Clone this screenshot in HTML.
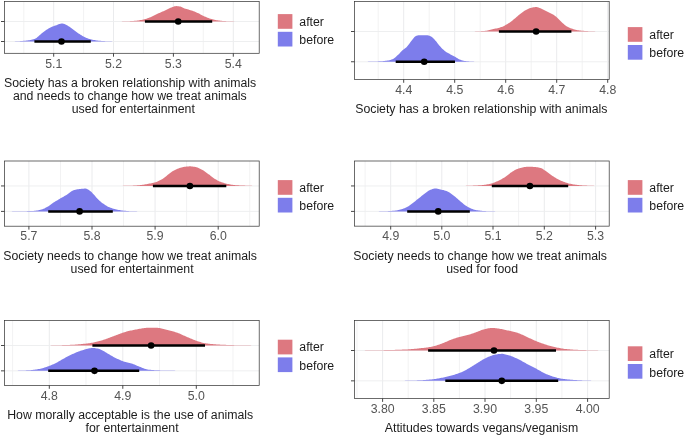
<!DOCTYPE html>
<html><head><meta charset="utf-8"><title>Figure</title>
<style>html,body{margin:0;padding:0;background:#fff;}svg{display:block;will-change:transform;}</style></head>
<body>
<svg width="685" height="436" viewBox="0 0 685 436" font-family="Liberation Sans, sans-serif">
<rect width="685" height="436" fill="#fff"/>
<clipPath id="c0"><rect x="4.5" y="1.5" width="254.70" height="51.80"/></clipPath>
<g clip-path="url(#c0)">
<line x1="23.8" y1="1.5" x2="23.8" y2="53.3" stroke="#ECEDEE" stroke-width="0.7"/>
<line x1="83.6" y1="1.5" x2="83.6" y2="53.3" stroke="#ECEDEE" stroke-width="0.7"/>
<line x1="143.4" y1="1.5" x2="143.4" y2="53.3" stroke="#ECEDEE" stroke-width="0.7"/>
<line x1="203.3" y1="1.5" x2="203.3" y2="53.3" stroke="#ECEDEE" stroke-width="0.7"/>
<line x1="53.7" y1="1.5" x2="53.7" y2="53.3" stroke="#E8E9EB" stroke-width="0.9"/>
<line x1="113.5" y1="1.5" x2="113.5" y2="53.3" stroke="#E8E9EB" stroke-width="0.9"/>
<line x1="173.4" y1="1.5" x2="173.4" y2="53.3" stroke="#E8E9EB" stroke-width="0.9"/>
<line x1="233.3" y1="1.5" x2="233.3" y2="53.3" stroke="#E8E9EB" stroke-width="0.9"/>
<line x1="4.5" y1="21.5" x2="259.2" y2="21.5" stroke="#ECEDEE" stroke-width="0.9"/>
<line x1="4.5" y1="41.5" x2="259.2" y2="41.5" stroke="#ECEDEE" stroke-width="0.9"/>
<path d="M11.5,41.50L11.5,41.50L12.5,41.48L13.5,41.45L14.5,41.41L15.5,41.37L16.5,41.32L17.5,41.27L18.5,41.22L19.5,41.16L20.5,41.09L21.5,41.01L22.5,40.93L23.5,40.85L24.5,40.75L25.5,40.65L26.5,40.55L27.5,40.43L28.5,40.29L29.5,40.14L30.5,39.97L31.5,39.78L32.5,39.55L33.5,39.29L34.5,39.00L35.5,38.59L36.5,37.92L37.5,37.06L38.5,36.13L39.5,35.22L40.5,34.40L41.5,33.58L42.5,32.75L43.5,31.94L44.5,31.17L45.5,30.46L46.5,29.80L47.5,29.16L48.5,28.56L49.5,28.00L50.5,27.50L51.5,27.04L52.5,26.62L53.5,26.23L54.5,25.86L55.5,25.51L56.5,25.14L57.5,24.73L58.5,24.32L59.5,23.95L60.5,23.67L61.5,23.51L62.5,23.54L63.5,23.76L64.5,24.12L65.5,24.55L66.5,24.99L67.5,25.52L68.5,26.16L69.5,26.87L70.5,27.61L71.5,28.33L72.5,29.04L73.5,29.78L74.5,30.52L75.5,31.27L76.5,31.99L77.5,32.69L78.5,33.38L79.5,34.07L80.5,34.73L81.5,35.35L82.5,35.93L83.5,36.49L84.5,37.04L85.5,37.54L86.5,37.99L87.5,38.37L88.5,38.70L89.5,39.01L90.5,39.28L91.5,39.52L92.5,39.73L93.5,39.91L94.5,40.09L95.5,40.25L96.5,40.40L97.5,40.54L98.5,40.66L99.5,40.77L100.5,40.86L101.5,40.93L102.5,40.99L103.5,41.05L104.5,41.10L105.5,41.15L106.5,41.20L107.5,41.24L108.5,41.27L109.5,41.30L110.5,41.33L111.5,41.36L112.5,41.38L113.5,41.41L114.5,41.43L115.5,41.45L116.5,41.47L117.5,41.48L118.5,41.49L119.5,41.50L119.5,41.50Z" fill="#7D7DEB"/>
<line x1="34.4" y1="41.5" x2="90.8" y2="41.5" stroke="#000" stroke-width="2.5"/>
<circle cx="61.5" cy="41.5" r="3.3" fill="#000"/>
<path d="M111.5,21.50L111.5,21.50L112.5,21.50L113.5,21.49L114.5,21.48L115.5,21.47L116.5,21.46L117.5,21.44L118.5,21.43L119.5,21.41L120.5,21.39L121.5,21.38L122.5,21.36L123.5,21.34L124.5,21.31L125.5,21.28L126.5,21.25L127.5,21.22L128.5,21.18L129.5,21.14L130.5,21.10L131.5,21.05L132.5,20.98L133.5,20.91L134.5,20.83L135.5,20.73L136.5,20.63L137.5,20.52L138.5,20.40L139.5,20.27L140.5,20.12L141.5,19.93L142.5,19.72L143.5,19.49L144.5,19.24L145.5,18.97L146.5,18.68L147.5,18.36L148.5,18.00L149.5,17.62L150.5,17.22L151.5,16.80L152.5,16.34L153.5,15.83L154.5,15.29L155.5,14.76L156.5,14.25L157.5,13.77L158.5,13.32L159.5,12.88L160.5,12.45L161.5,12.02L162.5,11.58L163.5,11.14L164.5,10.67L165.5,10.18L166.5,9.67L167.5,9.17L168.5,8.68L169.5,8.22L170.5,7.81L171.5,7.43L172.5,7.03L173.5,6.64L174.5,6.33L175.5,6.13L176.5,6.11L177.5,6.16L178.5,6.26L179.5,6.39L180.5,6.61L181.5,6.99L182.5,7.46L183.5,7.95L184.5,8.39L185.5,8.73L186.5,9.04L187.5,9.33L188.5,9.61L189.5,9.89L190.5,10.18L191.5,10.50L192.5,10.85L193.5,11.22L194.5,11.61L195.5,12.01L196.5,12.44L197.5,12.88L198.5,13.36L199.5,13.87L200.5,14.39L201.5,14.92L202.5,15.44L203.5,15.93L204.5,16.38L205.5,16.83L206.5,17.27L207.5,17.71L208.5,18.12L209.5,18.49L210.5,18.83L211.5,19.11L212.5,19.37L213.5,19.61L214.5,19.83L215.5,20.03L216.5,20.21L217.5,20.37L218.5,20.50L219.5,20.62L220.5,20.73L221.5,20.83L222.5,20.92L223.5,21.00L224.5,21.07L225.5,21.12L226.5,21.16L227.5,21.20L228.5,21.23L229.5,21.26L230.5,21.29L231.5,21.31L232.5,21.34L233.5,21.36L234.5,21.38L235.5,21.40L236.5,21.42L237.5,21.44L238.5,21.46L239.5,21.47L240.5,21.49L241.5,21.50L241.5,21.50Z" fill="#DD7880"/>
<line x1="144.9" y1="21.5" x2="212.2" y2="21.5" stroke="#000" stroke-width="2.5"/>
<circle cx="178.2" cy="21.5" r="3.3" fill="#000"/>
</g>
<rect x="4.5" y="1.5" width="254.70" height="51.80" fill="none" stroke="#333" stroke-width="0.72"/>
<line x1="1.0" y1="21.5" x2="4.5" y2="21.5" stroke="#333" stroke-width="0.9"/>
<line x1="1.0" y1="41.5" x2="4.5" y2="41.5" stroke="#333" stroke-width="0.9"/>
<line x1="53.7" y1="53.3" x2="53.7" y2="56.699999999999996" stroke="#333" stroke-width="0.9"/>
<text x="53.7" y="67.7" font-size="12.3" fill="#555" text-anchor="middle">5.1</text>
<line x1="113.5" y1="53.3" x2="113.5" y2="56.699999999999996" stroke="#333" stroke-width="0.9"/>
<text x="113.5" y="67.7" font-size="12.3" fill="#555" text-anchor="middle">5.2</text>
<line x1="173.4" y1="53.3" x2="173.4" y2="56.699999999999996" stroke="#333" stroke-width="0.9"/>
<text x="173.4" y="67.7" font-size="12.3" fill="#555" text-anchor="middle">5.3</text>
<line x1="233.3" y1="53.3" x2="233.3" y2="56.699999999999996" stroke="#333" stroke-width="0.9"/>
<text x="233.3" y="67.7" font-size="12.3" fill="#555" text-anchor="middle">5.4</text>
<text x="130.1" y="86.6" font-size="12.3" fill="#1c1c1c" text-anchor="middle">Society has a broken relationship with animals</text>
<text x="129.8" y="99.7" font-size="12.3" fill="#1c1c1c" text-anchor="middle">and needs to change how we treat animals</text>
<text x="133.3" y="112.8" font-size="12.3" fill="#1c1c1c" text-anchor="middle">used for entertainment</text>
<rect x="277.8" y="14.1" width="14.6" height="14.7" fill="#DD7880"/>
<rect x="277.8" y="31.8" width="14.6" height="14.7" fill="#7D7DEB"/>
<text x="299.3" y="25.9" font-size="12.3" fill="#1c1c1c">after</text>
<text x="299.3" y="43.9" font-size="12.3" fill="#1c1c1c">before</text>
<clipPath id="c1"><rect x="354.5" y="1.5" width="254.70" height="77.90"/></clipPath>
<g clip-path="url(#c1)">
<line x1="378.2" y1="1.5" x2="378.2" y2="79.4" stroke="#ECEDEE" stroke-width="0.7"/>
<line x1="429.2" y1="1.5" x2="429.2" y2="79.4" stroke="#ECEDEE" stroke-width="0.7"/>
<line x1="480.2" y1="1.5" x2="480.2" y2="79.4" stroke="#ECEDEE" stroke-width="0.7"/>
<line x1="531.2" y1="1.5" x2="531.2" y2="79.4" stroke="#ECEDEE" stroke-width="0.7"/>
<line x1="582.2" y1="1.5" x2="582.2" y2="79.4" stroke="#ECEDEE" stroke-width="0.7"/>
<line x1="403.7" y1="1.5" x2="403.7" y2="79.4" stroke="#E8E9EB" stroke-width="0.9"/>
<line x1="454.7" y1="1.5" x2="454.7" y2="79.4" stroke="#E8E9EB" stroke-width="0.9"/>
<line x1="505.7" y1="1.5" x2="505.7" y2="79.4" stroke="#E8E9EB" stroke-width="0.9"/>
<line x1="556.7" y1="1.5" x2="556.7" y2="79.4" stroke="#E8E9EB" stroke-width="0.9"/>
<line x1="607.7" y1="1.5" x2="607.7" y2="79.4" stroke="#E8E9EB" stroke-width="0.9"/>
<line x1="354.5" y1="31.5" x2="609.2" y2="31.5" stroke="#ECEDEE" stroke-width="0.9"/>
<line x1="354.5" y1="61.75" x2="609.2" y2="61.75" stroke="#ECEDEE" stroke-width="0.9"/>
<path d="M360.5,61.75L360.5,61.75L361.5,61.74L362.5,61.72L363.5,61.71L364.5,61.69L365.5,61.68L366.5,61.66L367.5,61.64L368.5,61.62L369.5,61.60L370.5,61.58L371.5,61.56L372.5,61.54L373.5,61.52L374.5,61.49L375.5,61.47L376.5,61.44L377.5,61.40L378.5,61.37L379.5,61.33L380.5,61.27L381.5,61.21L382.5,61.14L383.5,61.06L384.5,60.96L385.5,60.85L386.5,60.73L387.5,60.59L388.5,60.43L389.5,60.20L390.5,59.92L391.5,59.57L392.5,59.17L393.5,58.69L394.5,58.01L395.5,57.18L396.5,56.27L397.5,55.36L398.5,54.41L399.5,53.39L400.5,52.33L401.5,51.30L402.5,50.33L403.5,49.48L404.5,48.72L405.5,47.96L406.5,47.13L407.5,46.11L408.5,44.86L409.5,43.48L410.5,42.10L411.5,40.83L412.5,39.56L413.5,38.27L414.5,37.12L415.5,36.31L416.5,35.85L417.5,35.47L418.5,35.22L419.5,35.15L420.5,35.15L421.5,35.15L422.5,35.15L423.5,35.15L424.5,35.15L425.5,35.15L426.5,35.15L427.5,35.27L428.5,35.52L429.5,35.87L430.5,36.27L431.5,36.79L432.5,37.59L433.5,38.57L434.5,39.62L435.5,40.68L436.5,41.87L437.5,43.17L438.5,44.49L439.5,45.74L440.5,46.86L441.5,47.90L442.5,48.90L443.5,49.84L444.5,50.71L445.5,51.48L446.5,52.15L447.5,52.76L448.5,53.32L449.5,53.85L450.5,54.39L451.5,54.93L452.5,55.45L453.5,55.96L454.5,56.48L455.5,57.02L456.5,57.63L457.5,58.27L458.5,58.89L459.5,59.44L460.5,59.85L461.5,60.16L462.5,60.44L463.5,60.68L464.5,60.88L465.5,61.03L466.5,61.14L467.5,61.24L468.5,61.33L469.5,61.40L470.5,61.47L471.5,61.53L472.5,61.58L473.5,61.62L474.5,61.65L475.5,61.68L476.5,61.71L477.5,61.73L478.5,61.74L479.5,61.75L479.5,61.75Z" fill="#7D7DEB"/>
<line x1="395.7" y1="61.75" x2="455.0" y2="61.75" stroke="#000" stroke-width="2.5"/>
<circle cx="424.2" cy="61.75" r="3.3" fill="#000"/>
<path d="M464.5,31.50L464.5,31.50L465.5,31.50L466.5,31.49L467.5,31.49L468.5,31.48L469.5,31.46L470.5,31.45L471.5,31.44L472.5,31.42L473.5,31.40L474.5,31.38L475.5,31.36L476.5,31.33L477.5,31.30L478.5,31.26L479.5,31.21L480.5,31.16L481.5,31.10L482.5,31.04L483.5,30.96L484.5,30.89L485.5,30.80L486.5,30.69L487.5,30.53L488.5,30.33L489.5,30.11L490.5,29.86L491.5,29.61L492.5,29.35L493.5,29.09L494.5,28.85L495.5,28.62L496.5,28.40L497.5,28.17L498.5,27.92L499.5,27.66L500.5,27.36L501.5,27.03L502.5,26.63L503.5,26.17L504.5,25.66L505.5,25.11L506.5,24.53L507.5,23.94L508.5,23.31L509.5,22.63L510.5,21.90L511.5,21.15L512.5,20.38L513.5,19.60L514.5,18.78L515.5,17.92L516.5,17.02L517.5,16.13L518.5,15.27L519.5,14.45L520.5,13.69L521.5,12.93L522.5,12.20L523.5,11.50L524.5,10.85L525.5,10.26L526.5,9.73L527.5,9.20L528.5,8.71L529.5,8.28L530.5,7.95L531.5,7.72L532.5,7.52L533.5,7.35L534.5,7.21L535.5,7.12L536.5,7.10L537.5,7.25L538.5,7.55L539.5,7.93L540.5,8.33L541.5,8.72L542.5,9.20L543.5,9.72L544.5,10.27L545.5,10.82L546.5,11.35L547.5,11.83L548.5,12.28L549.5,12.72L550.5,13.18L551.5,13.67L552.5,14.23L553.5,14.86L554.5,15.56L555.5,16.30L556.5,17.10L557.5,17.99L558.5,18.99L559.5,20.02L560.5,21.02L561.5,21.95L562.5,22.91L563.5,23.84L564.5,24.72L565.5,25.50L566.5,26.15L567.5,26.73L568.5,27.26L569.5,27.74L570.5,28.17L571.5,28.53L572.5,28.87L573.5,29.18L574.5,29.47L575.5,29.73L576.5,29.96L577.5,30.16L578.5,30.31L579.5,30.44L580.5,30.56L581.5,30.67L582.5,30.77L583.5,30.86L584.5,30.94L585.5,31.01L586.5,31.07L587.5,31.12L588.5,31.16L589.5,31.20L590.5,31.24L591.5,31.27L592.5,31.30L593.5,31.33L594.5,31.36L595.5,31.38L596.5,31.41L597.5,31.43L598.5,31.45L599.5,31.47L600.5,31.49L601.5,31.50L601.5,31.50Z" fill="#DD7880"/>
<line x1="498.9" y1="31.5" x2="571.4" y2="31.5" stroke="#000" stroke-width="2.5"/>
<circle cx="536.1" cy="31.5" r="3.3" fill="#000"/>
</g>
<rect x="354.5" y="1.5" width="254.70" height="77.90" fill="none" stroke="#333" stroke-width="0.72"/>
<line x1="351.0" y1="31.5" x2="354.5" y2="31.5" stroke="#333" stroke-width="0.9"/>
<line x1="351.0" y1="61.75" x2="354.5" y2="61.75" stroke="#333" stroke-width="0.9"/>
<line x1="403.7" y1="79.4" x2="403.7" y2="82.80000000000001" stroke="#333" stroke-width="0.9"/>
<text x="403.7" y="93.9" font-size="12.3" fill="#555" text-anchor="middle">4.4</text>
<line x1="454.7" y1="79.4" x2="454.7" y2="82.80000000000001" stroke="#333" stroke-width="0.9"/>
<text x="454.7" y="93.9" font-size="12.3" fill="#555" text-anchor="middle">4.5</text>
<line x1="505.7" y1="79.4" x2="505.7" y2="82.80000000000001" stroke="#333" stroke-width="0.9"/>
<text x="505.7" y="93.9" font-size="12.3" fill="#555" text-anchor="middle">4.6</text>
<line x1="556.7" y1="79.4" x2="556.7" y2="82.80000000000001" stroke="#333" stroke-width="0.9"/>
<text x="556.7" y="93.9" font-size="12.3" fill="#555" text-anchor="middle">4.7</text>
<line x1="607.7" y1="79.4" x2="607.7" y2="82.80000000000001" stroke="#333" stroke-width="0.9"/>
<text x="607.7" y="93.9" font-size="12.3" fill="#555" text-anchor="middle">4.8</text>
<text x="481.3" y="112.8" font-size="12.3" fill="#1c1c1c" text-anchor="middle">Society has a broken relationship with animals</text>
<rect x="627.8" y="27.1" width="14.6" height="14.7" fill="#DD7880"/>
<rect x="627.8" y="45.0" width="14.6" height="14.7" fill="#7D7DEB"/>
<text x="649.3" y="39.1" font-size="12.3" fill="#1c1c1c">after</text>
<text x="649.3" y="56.8" font-size="12.3" fill="#1c1c1c">before</text>
<clipPath id="c2"><rect x="4.5" y="161.0" width="254.70" height="65.20"/></clipPath>
<g clip-path="url(#c2)">
<line x1="60.5" y1="161.0" x2="60.5" y2="226.2" stroke="#ECEDEE" stroke-width="0.7"/>
<line x1="123.5" y1="161.0" x2="123.5" y2="226.2" stroke="#ECEDEE" stroke-width="0.7"/>
<line x1="186.6" y1="161.0" x2="186.6" y2="226.2" stroke="#ECEDEE" stroke-width="0.7"/>
<line x1="249.7" y1="161.0" x2="249.7" y2="226.2" stroke="#ECEDEE" stroke-width="0.7"/>
<line x1="28.9" y1="161.0" x2="28.9" y2="226.2" stroke="#E8E9EB" stroke-width="0.9"/>
<line x1="92.0" y1="161.0" x2="92.0" y2="226.2" stroke="#E8E9EB" stroke-width="0.9"/>
<line x1="155.1" y1="161.0" x2="155.1" y2="226.2" stroke="#E8E9EB" stroke-width="0.9"/>
<line x1="218.2" y1="161.0" x2="218.2" y2="226.2" stroke="#E8E9EB" stroke-width="0.9"/>
<line x1="4.5" y1="185.95" x2="259.2" y2="185.95" stroke="#ECEDEE" stroke-width="0.9"/>
<line x1="4.5" y1="211.4" x2="259.2" y2="211.4" stroke="#ECEDEE" stroke-width="0.9"/>
<path d="M10.5,211.40L10.5,211.40L11.5,211.38L12.5,211.36L13.5,211.34L14.5,211.32L15.5,211.30L16.5,211.28L17.5,211.26L18.5,211.24L19.5,211.23L20.5,211.21L21.5,211.20L22.5,211.19L23.5,211.18L24.5,211.16L25.5,211.15L26.5,211.14L27.5,211.12L28.5,211.10L29.5,211.08L30.5,211.06L31.5,211.03L32.5,211.00L33.5,210.95L34.5,210.86L35.5,210.75L36.5,210.61L37.5,210.45L38.5,210.26L39.5,210.06L40.5,209.84L41.5,209.60L42.5,209.28L43.5,208.87L44.5,208.39L45.5,207.86L46.5,207.30L47.5,206.74L48.5,206.13L49.5,205.45L50.5,204.73L51.5,204.00L52.5,203.28L53.5,202.60L54.5,201.96L55.5,201.34L56.5,200.73L57.5,200.13L58.5,199.54L59.5,198.95L60.5,198.36L61.5,197.78L62.5,197.22L63.5,196.67L64.5,196.11L65.5,195.53L66.5,194.93L67.5,194.25L68.5,193.48L69.5,192.69L70.5,191.94L71.5,191.31L72.5,190.82L73.5,190.37L74.5,189.98L75.5,189.67L76.5,189.47L77.5,189.30L78.5,189.15L79.5,189.01L80.5,188.89L81.5,188.78L82.5,188.70L83.5,188.64L84.5,188.61L85.5,188.62L86.5,188.86L87.5,189.28L88.5,189.82L89.5,190.40L90.5,191.13L91.5,192.10L92.5,193.19L93.5,194.29L94.5,195.35L95.5,196.48L96.5,197.64L97.5,198.78L98.5,199.83L99.5,200.76L100.5,201.61L101.5,202.41L102.5,203.16L103.5,203.87L104.5,204.53L105.5,205.18L106.5,205.80L107.5,206.38L108.5,206.90L109.5,207.36L110.5,207.75L111.5,208.11L112.5,208.44L113.5,208.74L114.5,209.01L115.5,209.25L116.5,209.48L117.5,209.70L118.5,209.91L119.5,210.10L120.5,210.28L121.5,210.44L122.5,210.58L123.5,210.69L124.5,210.78L125.5,210.87L126.5,210.95L127.5,211.03L128.5,211.09L129.5,211.15L130.5,211.20L131.5,211.24L132.5,211.27L133.5,211.30L134.5,211.33L135.5,211.35L136.5,211.37L137.5,211.39L138.5,211.40L139.5,211.40L139.5,211.40Z" fill="#7D7DEB"/>
<line x1="48.2" y1="211.4" x2="112.8" y2="211.4" stroke="#000" stroke-width="2.5"/>
<circle cx="79.6" cy="211.4" r="3.3" fill="#000"/>
<path d="M114.5,185.95L114.5,185.95L115.5,185.95L116.5,185.95L117.5,185.94L118.5,185.93L119.5,185.92L120.5,185.91L121.5,185.90L122.5,185.88L123.5,185.86L124.5,185.84L125.5,185.82L126.5,185.80L127.5,185.78L128.5,185.76L129.5,185.73L130.5,185.71L131.5,185.67L132.5,185.63L133.5,185.58L134.5,185.52L135.5,185.46L136.5,185.39L137.5,185.31L138.5,185.23L139.5,185.14L140.5,185.05L141.5,184.95L142.5,184.82L143.5,184.68L144.5,184.53L145.5,184.36L146.5,184.18L147.5,184.00L148.5,183.80L149.5,183.61L150.5,183.41L151.5,183.21L152.5,182.99L153.5,182.75L154.5,182.49L155.5,182.20L156.5,181.88L157.5,181.51L158.5,181.07L159.5,180.58L160.5,180.05L161.5,179.48L162.5,178.89L163.5,178.22L164.5,177.48L165.5,176.68L166.5,175.88L167.5,175.10L168.5,174.35L169.5,173.57L170.5,172.79L171.5,172.03L172.5,171.33L173.5,170.72L174.5,170.18L175.5,169.68L176.5,169.21L177.5,168.78L178.5,168.40L179.5,168.07L180.5,167.78L181.5,167.52L182.5,167.27L183.5,167.06L184.5,166.87L185.5,166.72L186.5,166.61L187.5,166.51L188.5,166.43L189.5,166.37L190.5,166.35L191.5,166.39L192.5,166.50L193.5,166.66L194.5,166.86L195.5,167.09L196.5,167.33L197.5,167.61L198.5,167.99L199.5,168.44L200.5,168.95L201.5,169.49L202.5,170.04L203.5,170.62L204.5,171.26L205.5,171.95L206.5,172.67L207.5,173.40L208.5,174.13L209.5,174.86L210.5,175.63L211.5,176.42L212.5,177.20L213.5,177.95L214.5,178.64L215.5,179.25L216.5,179.83L217.5,180.39L218.5,180.91L219.5,181.39L220.5,181.82L221.5,182.20L222.5,182.55L223.5,182.87L224.5,183.18L225.5,183.46L226.5,183.71L227.5,183.93L228.5,184.12L229.5,184.30L230.5,184.47L231.5,184.63L232.5,184.78L233.5,184.91L234.5,185.03L235.5,185.14L236.5,185.22L237.5,185.29L238.5,185.35L239.5,185.41L240.5,185.46L241.5,185.50L242.5,185.54L243.5,185.58L244.5,185.62L245.5,185.65L246.5,185.69L247.5,185.72L248.5,185.76L249.5,185.79L250.5,185.82L251.5,185.85L252.5,185.88L253.5,185.90L254.5,185.93L255.5,185.95L255.5,185.95Z" fill="#DD7880"/>
<line x1="152.9" y1="185.95" x2="226.3" y2="185.95" stroke="#000" stroke-width="2.5"/>
<circle cx="189.9" cy="185.95" r="3.3" fill="#000"/>
</g>
<rect x="4.5" y="161.0" width="254.70" height="65.20" fill="none" stroke="#333" stroke-width="0.72"/>
<line x1="1.0" y1="185.95" x2="4.5" y2="185.95" stroke="#333" stroke-width="0.9"/>
<line x1="1.0" y1="211.4" x2="4.5" y2="211.4" stroke="#333" stroke-width="0.9"/>
<line x1="28.9" y1="226.2" x2="28.9" y2="229.6" stroke="#333" stroke-width="0.9"/>
<text x="28.9" y="240.4" font-size="12.3" fill="#555" text-anchor="middle">5.7</text>
<line x1="92.0" y1="226.2" x2="92.0" y2="229.6" stroke="#333" stroke-width="0.9"/>
<text x="92.0" y="240.4" font-size="12.3" fill="#555" text-anchor="middle">5.8</text>
<line x1="155.1" y1="226.2" x2="155.1" y2="229.6" stroke="#333" stroke-width="0.9"/>
<text x="155.1" y="240.4" font-size="12.3" fill="#555" text-anchor="middle">5.9</text>
<line x1="218.2" y1="226.2" x2="218.2" y2="229.6" stroke="#333" stroke-width="0.9"/>
<text x="218.2" y="240.4" font-size="12.3" fill="#555" text-anchor="middle">6.0</text>
<text x="130.1" y="260.0" font-size="12.3" fill="#1c1c1c" text-anchor="middle">Society needs to change how we treat animals</text>
<text x="132.1" y="273.1" font-size="12.3" fill="#1c1c1c" text-anchor="middle">used for entertainment</text>
<rect x="277.8" y="180.1" width="14.6" height="14.7" fill="#DD7880"/>
<rect x="277.8" y="197.8" width="14.6" height="14.7" fill="#7D7DEB"/>
<text x="299.3" y="191.9" font-size="12.3" fill="#1c1c1c">after</text>
<text x="299.3" y="209.8" font-size="12.3" fill="#1c1c1c">before</text>
<clipPath id="c3"><rect x="354.5" y="161.0" width="254.70" height="65.15"/></clipPath>
<g clip-path="url(#c3)">
<line x1="365.1" y1="161.0" x2="365.1" y2="226.15" stroke="#ECEDEE" stroke-width="0.7"/>
<line x1="416.3" y1="161.0" x2="416.3" y2="226.15" stroke="#ECEDEE" stroke-width="0.7"/>
<line x1="467.4" y1="161.0" x2="467.4" y2="226.15" stroke="#ECEDEE" stroke-width="0.7"/>
<line x1="518.6" y1="161.0" x2="518.6" y2="226.15" stroke="#ECEDEE" stroke-width="0.7"/>
<line x1="569.9" y1="161.0" x2="569.9" y2="226.15" stroke="#ECEDEE" stroke-width="0.7"/>
<line x1="390.7" y1="161.0" x2="390.7" y2="226.15" stroke="#E8E9EB" stroke-width="0.9"/>
<line x1="441.8" y1="161.0" x2="441.8" y2="226.15" stroke="#E8E9EB" stroke-width="0.9"/>
<line x1="493.0" y1="161.0" x2="493.0" y2="226.15" stroke="#E8E9EB" stroke-width="0.9"/>
<line x1="544.3" y1="161.0" x2="544.3" y2="226.15" stroke="#E8E9EB" stroke-width="0.9"/>
<line x1="595.6" y1="161.0" x2="595.6" y2="226.15" stroke="#E8E9EB" stroke-width="0.9"/>
<line x1="354.5" y1="185.95" x2="609.2" y2="185.95" stroke="#ECEDEE" stroke-width="0.9"/>
<line x1="354.5" y1="211.4" x2="609.2" y2="211.4" stroke="#ECEDEE" stroke-width="0.9"/>
<path d="M376.5,211.40L376.5,211.40L377.5,211.39L378.5,211.38L379.5,211.37L380.5,211.35L381.5,211.33L382.5,211.30L383.5,211.28L384.5,211.25L385.5,211.22L386.5,211.18L387.5,211.14L388.5,211.10L389.5,211.04L390.5,210.98L391.5,210.92L392.5,210.85L393.5,210.77L394.5,210.68L395.5,210.56L396.5,210.41L397.5,210.22L398.5,210.01L399.5,209.77L400.5,209.51L401.5,209.24L402.5,208.94L403.5,208.58L404.5,208.18L405.5,207.74L406.5,207.26L407.5,206.75L408.5,206.15L409.5,205.45L410.5,204.70L411.5,203.92L412.5,203.15L413.5,202.40L414.5,201.64L415.5,200.88L416.5,200.10L417.5,199.32L418.5,198.54L419.5,197.74L420.5,196.92L421.5,196.09L422.5,195.27L423.5,194.46L424.5,193.69L425.5,192.96L426.5,192.20L427.5,191.46L428.5,190.78L429.5,190.21L430.5,189.78L431.5,189.40L432.5,189.05L433.5,188.76L434.5,188.56L435.5,188.50L436.5,188.57L437.5,188.74L438.5,188.96L439.5,189.21L440.5,189.46L441.5,189.67L442.5,189.89L443.5,190.12L444.5,190.38L445.5,190.66L446.5,190.99L447.5,191.40L448.5,191.93L449.5,192.55L450.5,193.22L451.5,193.91L452.5,194.64L453.5,195.42L454.5,196.24L455.5,197.08L456.5,197.93L457.5,198.77L458.5,199.63L459.5,200.51L460.5,201.41L461.5,202.28L462.5,203.12L463.5,203.90L464.5,204.64L465.5,205.38L466.5,206.09L467.5,206.75L468.5,207.34L469.5,207.85L470.5,208.30L471.5,208.71L472.5,209.10L473.5,209.44L474.5,209.73L475.5,209.96L476.5,210.15L477.5,210.32L478.5,210.47L479.5,210.61L480.5,210.73L481.5,210.83L482.5,210.92L483.5,210.99L484.5,211.05L485.5,211.10L486.5,211.14L487.5,211.18L488.5,211.21L489.5,211.24L490.5,211.27L491.5,211.29L492.5,211.32L493.5,211.34L494.5,211.37L495.5,211.38L496.5,211.40L496.5,211.40Z" fill="#7D7DEB"/>
<line x1="407.2" y1="211.4" x2="469.8" y2="211.4" stroke="#000" stroke-width="2.5"/>
<circle cx="438.2" cy="211.4" r="3.3" fill="#000"/>
<path d="M460.5,185.95L460.5,185.95L461.5,185.95L462.5,185.94L463.5,185.93L464.5,185.91L465.5,185.89L466.5,185.86L467.5,185.83L468.5,185.80L469.5,185.77L470.5,185.73L471.5,185.69L472.5,185.65L473.5,185.61L474.5,185.57L475.5,185.53L476.5,185.48L477.5,185.42L478.5,185.36L479.5,185.29L480.5,185.21L481.5,185.13L482.5,185.03L483.5,184.93L484.5,184.82L485.5,184.68L486.5,184.52L487.5,184.34L488.5,184.14L489.5,183.91L490.5,183.68L491.5,183.42L492.5,183.15L493.5,182.84L494.5,182.47L495.5,182.06L496.5,181.61L497.5,181.13L498.5,180.64L499.5,180.15L500.5,179.65L501.5,179.13L502.5,178.58L503.5,178.01L504.5,177.41L505.5,176.78L506.5,176.09L507.5,175.32L508.5,174.49L509.5,173.66L510.5,172.87L511.5,172.14L512.5,171.51L513.5,170.91L514.5,170.34L515.5,169.81L516.5,169.35L517.5,168.96L518.5,168.60L519.5,168.27L520.5,167.98L521.5,167.72L522.5,167.51L523.5,167.30L524.5,167.10L525.5,166.92L526.5,166.78L527.5,166.68L528.5,166.65L529.5,166.66L530.5,166.70L531.5,166.75L532.5,166.81L533.5,166.89L534.5,166.97L535.5,167.06L536.5,167.16L537.5,167.29L538.5,167.46L539.5,167.66L540.5,167.90L541.5,168.24L542.5,168.78L543.5,169.45L544.5,170.15L545.5,170.82L546.5,171.52L547.5,172.27L548.5,173.03L549.5,173.78L550.5,174.49L551.5,175.19L552.5,175.89L553.5,176.58L554.5,177.24L555.5,177.87L556.5,178.45L557.5,178.99L558.5,179.51L559.5,180.00L560.5,180.47L561.5,180.90L562.5,181.31L563.5,181.70L564.5,182.08L565.5,182.44L566.5,182.79L567.5,183.10L568.5,183.38L569.5,183.63L570.5,183.84L571.5,184.04L572.5,184.23L573.5,184.41L574.5,184.57L575.5,184.71L576.5,184.84L577.5,184.96L578.5,185.06L579.5,185.15L580.5,185.23L581.5,185.31L582.5,185.38L583.5,185.45L584.5,185.51L585.5,185.57L586.5,185.62L587.5,185.67L588.5,185.71L589.5,185.74L590.5,185.77L591.5,185.81L592.5,185.84L593.5,185.87L594.5,185.89L595.5,185.91L596.5,185.93L597.5,185.94L598.5,185.95L598.5,185.95Z" fill="#DD7880"/>
<line x1="491.8" y1="185.95" x2="568.2" y2="185.95" stroke="#000" stroke-width="2.5"/>
<circle cx="529.9" cy="185.95" r="3.3" fill="#000"/>
</g>
<rect x="354.5" y="161.0" width="254.70" height="65.15" fill="none" stroke="#333" stroke-width="0.72"/>
<line x1="351.0" y1="185.95" x2="354.5" y2="185.95" stroke="#333" stroke-width="0.9"/>
<line x1="351.0" y1="211.4" x2="354.5" y2="211.4" stroke="#333" stroke-width="0.9"/>
<line x1="390.7" y1="226.15" x2="390.7" y2="229.55" stroke="#333" stroke-width="0.9"/>
<text x="390.7" y="240.4" font-size="12.3" fill="#555" text-anchor="middle">4.9</text>
<line x1="441.8" y1="226.15" x2="441.8" y2="229.55" stroke="#333" stroke-width="0.9"/>
<text x="441.8" y="240.4" font-size="12.3" fill="#555" text-anchor="middle">5.0</text>
<line x1="493.0" y1="226.15" x2="493.0" y2="229.55" stroke="#333" stroke-width="0.9"/>
<text x="493.0" y="240.4" font-size="12.3" fill="#555" text-anchor="middle">5.1</text>
<line x1="544.3" y1="226.15" x2="544.3" y2="229.55" stroke="#333" stroke-width="0.9"/>
<text x="544.3" y="240.4" font-size="12.3" fill="#555" text-anchor="middle">5.2</text>
<line x1="595.6" y1="226.15" x2="595.6" y2="229.55" stroke="#333" stroke-width="0.9"/>
<text x="595.6" y="240.4" font-size="12.3" fill="#555" text-anchor="middle">5.3</text>
<text x="480.1" y="260.0" font-size="12.3" fill="#1c1c1c" text-anchor="middle">Society needs to change how we treat animals</text>
<text x="482.1" y="273.1" font-size="12.3" fill="#1c1c1c" text-anchor="middle">used for food</text>
<rect x="627.8" y="180.1" width="14.6" height="14.7" fill="#DD7880"/>
<rect x="627.8" y="197.8" width="14.6" height="14.7" fill="#7D7DEB"/>
<text x="649.3" y="191.9" font-size="12.3" fill="#1c1c1c">after</text>
<text x="649.3" y="209.8" font-size="12.3" fill="#1c1c1c">before</text>
<clipPath id="c4"><rect x="4.5" y="320.5" width="254.70" height="64.90"/></clipPath>
<g clip-path="url(#c4)">
<line x1="12.6" y1="320.5" x2="12.6" y2="385.4" stroke="#ECEDEE" stroke-width="0.7"/>
<line x1="86.0" y1="320.5" x2="86.0" y2="385.4" stroke="#ECEDEE" stroke-width="0.7"/>
<line x1="159.5" y1="320.5" x2="159.5" y2="385.4" stroke="#ECEDEE" stroke-width="0.7"/>
<line x1="233.0" y1="320.5" x2="233.0" y2="385.4" stroke="#ECEDEE" stroke-width="0.7"/>
<line x1="49.3" y1="320.5" x2="49.3" y2="385.4" stroke="#E8E9EB" stroke-width="0.9"/>
<line x1="122.8" y1="320.5" x2="122.8" y2="385.4" stroke="#E8E9EB" stroke-width="0.9"/>
<line x1="196.3" y1="320.5" x2="196.3" y2="385.4" stroke="#E8E9EB" stroke-width="0.9"/>
<line x1="4.5" y1="345.5" x2="259.2" y2="345.5" stroke="#ECEDEE" stroke-width="0.9"/>
<line x1="4.5" y1="370.85" x2="259.2" y2="370.85" stroke="#ECEDEE" stroke-width="0.9"/>
<path d="M8.5,370.85L8.5,370.85L9.5,370.83L10.5,370.80L11.5,370.78L12.5,370.76L13.5,370.73L14.5,370.70L15.5,370.68L16.5,370.66L17.5,370.63L18.5,370.61L19.5,370.58L20.5,370.56L21.5,370.53L22.5,370.50L23.5,370.47L24.5,370.44L25.5,370.40L26.5,370.36L27.5,370.32L28.5,370.27L29.5,370.21L30.5,370.14L31.5,370.05L32.5,369.95L33.5,369.84L34.5,369.71L35.5,369.58L36.5,369.43L37.5,369.28L38.5,369.12L39.5,368.94L40.5,368.73L41.5,368.48L42.5,368.21L43.5,367.91L44.5,367.59L45.5,367.26L46.5,366.91L47.5,366.56L48.5,366.21L49.5,365.83L50.5,365.44L51.5,365.02L52.5,364.59L53.5,364.14L54.5,363.67L55.5,363.19L56.5,362.70L57.5,362.18L58.5,361.62L59.5,361.04L60.5,360.45L61.5,359.86L62.5,359.26L63.5,358.68L64.5,358.13L65.5,357.59L66.5,357.07L67.5,356.55L68.5,356.04L69.5,355.53L70.5,355.04L71.5,354.55L72.5,354.09L73.5,353.64L74.5,353.21L75.5,352.79L76.5,352.37L77.5,351.96L78.5,351.56L79.5,351.18L80.5,350.82L81.5,350.48L82.5,350.16L83.5,349.88L84.5,349.60L85.5,349.32L86.5,349.04L87.5,348.77L88.5,348.52L89.5,348.31L90.5,348.13L91.5,348.01L92.5,347.95L93.5,347.97L94.5,348.05L95.5,348.20L96.5,348.38L97.5,348.61L98.5,348.85L99.5,349.10L100.5,349.44L101.5,349.89L102.5,350.42L103.5,351.01L104.5,351.62L105.5,352.25L106.5,352.85L107.5,353.42L108.5,353.99L109.5,354.58L110.5,355.17L111.5,355.77L112.5,356.35L113.5,356.92L114.5,357.45L115.5,357.94L116.5,358.43L117.5,358.90L118.5,359.36L119.5,359.80L120.5,360.23L121.5,360.64L122.5,361.02L123.5,361.38L124.5,361.71L125.5,362.01L126.5,362.28L127.5,362.52L128.5,362.76L129.5,363.00L130.5,363.26L131.5,363.54L132.5,363.85L133.5,364.21L134.5,364.60L135.5,365.02L136.5,365.46L137.5,365.89L138.5,366.32L139.5,366.72L140.5,367.10L141.5,367.49L142.5,367.89L143.5,368.29L144.5,368.66L145.5,369.00L146.5,369.28L147.5,369.49L148.5,369.63L149.5,369.74L150.5,369.85L151.5,369.94L152.5,370.02L153.5,370.10L154.5,370.16L155.5,370.21L156.5,370.25L157.5,370.29L158.5,370.32L159.5,370.35L160.5,370.38L161.5,370.40L162.5,370.42L163.5,370.44L164.5,370.46L165.5,370.48L166.5,370.50L167.5,370.52L168.5,370.53L169.5,370.55L170.5,370.56L171.5,370.58L172.5,370.59L173.5,370.60L174.5,370.62L175.5,370.63L176.5,370.65L177.5,370.66L178.5,370.68L179.5,370.70L180.5,370.71L181.5,370.73L182.5,370.75L183.5,370.77L184.5,370.79L185.5,370.81L186.5,370.83L187.5,370.85L187.5,370.85Z" fill="#7D7DEB"/>
<line x1="48.2" y1="370.85" x2="139.2" y2="370.85" stroke="#000" stroke-width="2.5"/>
<circle cx="94.5" cy="370.85" r="3.3" fill="#000"/>
<path d="M44.5,345.50L44.5,345.50L45.5,345.48L46.5,345.46L47.5,345.44L48.5,345.42L49.5,345.40L50.5,345.38L51.5,345.36L52.5,345.34L53.5,345.32L54.5,345.30L55.5,345.28L56.5,345.26L57.5,345.24L58.5,345.21L59.5,345.19L60.5,345.17L61.5,345.15L62.5,345.12L63.5,345.10L64.5,345.07L65.5,345.04L66.5,345.01L67.5,344.97L68.5,344.94L69.5,344.90L70.5,344.86L71.5,344.81L72.5,344.75L73.5,344.69L74.5,344.63L75.5,344.56L76.5,344.48L77.5,344.40L78.5,344.31L79.5,344.23L80.5,344.14L81.5,344.04L82.5,343.94L83.5,343.84L84.5,343.74L85.5,343.64L86.5,343.52L87.5,343.40L88.5,343.28L89.5,343.14L90.5,342.99L91.5,342.83L92.5,342.67L93.5,342.49L94.5,342.30L95.5,342.09L96.5,341.86L97.5,341.60L98.5,341.33L99.5,341.05L100.5,340.75L101.5,340.45L102.5,340.13L103.5,339.81L104.5,339.50L105.5,339.17L106.5,338.83L107.5,338.47L108.5,338.09L109.5,337.71L110.5,337.32L111.5,336.92L112.5,336.53L113.5,336.15L114.5,335.77L115.5,335.40L116.5,335.04L117.5,334.67L118.5,334.30L119.5,333.93L120.5,333.56L121.5,333.20L122.5,332.85L123.5,332.51L124.5,332.19L125.5,331.90L126.5,331.62L127.5,331.36L128.5,331.10L129.5,330.85L130.5,330.62L131.5,330.39L132.5,330.17L133.5,329.96L134.5,329.76L135.5,329.57L136.5,329.39L137.5,329.21L138.5,329.03L139.5,328.84L140.5,328.65L141.5,328.47L142.5,328.30L143.5,328.14L144.5,328.01L145.5,327.90L146.5,327.83L147.5,327.80L148.5,327.80L149.5,327.80L150.5,327.80L151.5,327.80L152.5,327.80L153.5,327.80L154.5,327.80L155.5,327.80L156.5,327.80L157.5,327.81L158.5,327.89L159.5,328.03L160.5,328.21L161.5,328.44L162.5,328.68L163.5,328.94L164.5,329.21L165.5,329.46L166.5,329.69L167.5,329.93L168.5,330.18L169.5,330.43L170.5,330.69L171.5,330.97L172.5,331.25L173.5,331.55L174.5,331.85L175.5,332.17L176.5,332.50L177.5,332.84L178.5,333.22L179.5,333.62L180.5,334.05L181.5,334.48L182.5,334.93L183.5,335.39L184.5,335.84L185.5,336.29L186.5,336.73L187.5,337.16L188.5,337.58L189.5,338.00L190.5,338.43L191.5,338.86L192.5,339.28L193.5,339.69L194.5,340.08L195.5,340.45L196.5,340.80L197.5,341.13L198.5,341.46L199.5,341.78L200.5,342.10L201.5,342.40L202.5,342.67L203.5,342.93L204.5,343.15L205.5,343.33L206.5,343.47L207.5,343.59L208.5,343.71L209.5,343.82L210.5,343.93L211.5,344.02L212.5,344.11L213.5,344.20L214.5,344.27L215.5,344.34L216.5,344.41L217.5,344.47L218.5,344.53L219.5,344.58L220.5,344.64L221.5,344.68L222.5,344.73L223.5,344.78L224.5,344.82L225.5,344.86L226.5,344.90L227.5,344.94L228.5,344.97L229.5,345.01L230.5,345.04L231.5,345.07L232.5,345.09L233.5,345.12L234.5,345.14L235.5,345.16L236.5,345.18L237.5,345.20L238.5,345.21L239.5,345.23L240.5,345.24L241.5,345.25L242.5,345.26L243.5,345.28L244.5,345.29L245.5,345.30L246.5,345.31L247.5,345.33L248.5,345.34L249.5,345.35L250.5,345.37L251.5,345.39L252.5,345.41L253.5,345.43L254.5,345.45L255.5,345.48L256.5,345.50L256.5,345.50Z" fill="#DD7880"/>
<line x1="92.4" y1="345.5" x2="205.0" y2="345.5" stroke="#000" stroke-width="2.5"/>
<circle cx="151.1" cy="345.5" r="3.3" fill="#000"/>
</g>
<rect x="4.5" y="320.5" width="254.70" height="64.90" fill="none" stroke="#333" stroke-width="0.72"/>
<line x1="1.0" y1="345.5" x2="4.5" y2="345.5" stroke="#333" stroke-width="0.9"/>
<line x1="1.0" y1="370.85" x2="4.5" y2="370.85" stroke="#333" stroke-width="0.9"/>
<line x1="49.3" y1="385.4" x2="49.3" y2="388.79999999999995" stroke="#333" stroke-width="0.9"/>
<text x="49.3" y="399.5" font-size="12.3" fill="#555" text-anchor="middle">4.8</text>
<line x1="122.8" y1="385.4" x2="122.8" y2="388.79999999999995" stroke="#333" stroke-width="0.9"/>
<text x="122.8" y="399.5" font-size="12.3" fill="#555" text-anchor="middle">4.9</text>
<line x1="196.3" y1="385.4" x2="196.3" y2="388.79999999999995" stroke="#333" stroke-width="0.9"/>
<text x="196.3" y="399.5" font-size="12.3" fill="#555" text-anchor="middle">5.0</text>
<text x="130.2" y="419.0" font-size="12.3" fill="#1c1c1c" text-anchor="middle">How morally acceptable is the use of animals</text>
<text x="132.1" y="432.1" font-size="12.3" fill="#1c1c1c" text-anchor="middle">for entertainment</text>
<rect x="277.8" y="339.7" width="14.6" height="14.7" fill="#DD7880"/>
<rect x="277.8" y="357.4" width="14.6" height="14.7" fill="#7D7DEB"/>
<text x="299.3" y="351.3" font-size="12.3" fill="#1c1c1c">after</text>
<text x="299.3" y="369.5" font-size="12.3" fill="#1c1c1c">before</text>
<clipPath id="c5"><rect x="354.5" y="320.5" width="254.70" height="78.00"/></clipPath>
<g clip-path="url(#c5)">
<line x1="357.0" y1="320.5" x2="357.0" y2="398.5" stroke="#ECEDEE" stroke-width="0.7"/>
<line x1="408.2" y1="320.5" x2="408.2" y2="398.5" stroke="#ECEDEE" stroke-width="0.7"/>
<line x1="459.4" y1="320.5" x2="459.4" y2="398.5" stroke="#ECEDEE" stroke-width="0.7"/>
<line x1="510.6" y1="320.5" x2="510.6" y2="398.5" stroke="#ECEDEE" stroke-width="0.7"/>
<line x1="561.9" y1="320.5" x2="561.9" y2="398.5" stroke="#ECEDEE" stroke-width="0.7"/>
<line x1="382.6" y1="320.5" x2="382.6" y2="398.5" stroke="#E8E9EB" stroke-width="0.9"/>
<line x1="433.8" y1="320.5" x2="433.8" y2="398.5" stroke="#E8E9EB" stroke-width="0.9"/>
<line x1="485.0" y1="320.5" x2="485.0" y2="398.5" stroke="#E8E9EB" stroke-width="0.9"/>
<line x1="536.3" y1="320.5" x2="536.3" y2="398.5" stroke="#E8E9EB" stroke-width="0.9"/>
<line x1="587.6" y1="320.5" x2="587.6" y2="398.5" stroke="#E8E9EB" stroke-width="0.9"/>
<line x1="354.5" y1="350.5" x2="609.2" y2="350.5" stroke="#ECEDEE" stroke-width="0.9"/>
<line x1="354.5" y1="380.85" x2="609.2" y2="380.85" stroke="#ECEDEE" stroke-width="0.9"/>
<path d="M393.5,380.85L393.5,380.85L394.5,380.83L395.5,380.81L396.5,380.79L397.5,380.77L398.5,380.75L399.5,380.73L400.5,380.71L401.5,380.69L402.5,380.67L403.5,380.66L404.5,380.64L405.5,380.62L406.5,380.61L407.5,380.59L408.5,380.58L409.5,380.56L410.5,380.54L411.5,380.52L412.5,380.50L413.5,380.48L414.5,380.46L415.5,380.43L416.5,380.40L417.5,380.37L418.5,380.33L419.5,380.29L420.5,380.24L421.5,380.19L422.5,380.13L423.5,380.07L424.5,380.00L425.5,379.93L426.5,379.85L427.5,379.77L428.5,379.69L429.5,379.60L430.5,379.50L431.5,379.41L432.5,379.31L433.5,379.20L434.5,379.07L435.5,378.93L436.5,378.77L437.5,378.61L438.5,378.43L439.5,378.25L440.5,378.06L441.5,377.86L442.5,377.66L443.5,377.45L444.5,377.24L445.5,377.03L446.5,376.81L447.5,376.58L448.5,376.34L449.5,376.09L450.5,375.82L451.5,375.55L452.5,375.27L453.5,374.97L454.5,374.67L455.5,374.36L456.5,374.04L457.5,373.70L458.5,373.35L459.5,372.98L460.5,372.59L461.5,372.18L462.5,371.75L463.5,371.28L464.5,370.78L465.5,370.24L466.5,369.67L467.5,369.09L468.5,368.49L469.5,367.90L470.5,367.31L471.5,366.72L472.5,366.10L473.5,365.48L474.5,364.85L475.5,364.22L476.5,363.59L477.5,362.97L478.5,362.35L479.5,361.72L480.5,361.07L481.5,360.44L482.5,359.82L483.5,359.22L484.5,358.66L485.5,358.15L486.5,357.68L487.5,357.23L488.5,356.82L489.5,356.43L490.5,356.07L491.5,355.71L492.5,355.37L493.5,355.05L494.5,354.79L495.5,354.60L496.5,354.42L497.5,354.25L498.5,354.10L499.5,353.98L500.5,353.89L501.5,353.85L502.5,353.87L503.5,353.99L504.5,354.17L505.5,354.41L506.5,354.68L507.5,354.97L508.5,355.25L509.5,355.54L510.5,355.87L511.5,356.23L512.5,356.62L513.5,357.03L514.5,357.46L515.5,357.90L516.5,358.36L517.5,358.82L518.5,359.28L519.5,359.78L520.5,360.30L521.5,360.85L522.5,361.41L523.5,361.97L524.5,362.54L525.5,363.11L526.5,363.67L527.5,364.20L528.5,364.73L529.5,365.24L530.5,365.75L531.5,366.26L532.5,366.77L533.5,367.28L534.5,367.79L535.5,368.31L536.5,368.84L537.5,369.38L538.5,369.94L539.5,370.52L540.5,371.10L541.5,371.68L542.5,372.24L543.5,372.76L544.5,373.25L545.5,373.70L546.5,374.14L547.5,374.56L548.5,374.96L549.5,375.34L550.5,375.71L551.5,376.05L552.5,376.38L553.5,376.70L554.5,377.02L555.5,377.32L556.5,377.61L557.5,377.88L558.5,378.11L559.5,378.31L560.5,378.49L561.5,378.65L562.5,378.80L563.5,378.93L564.5,379.06L565.5,379.18L566.5,379.29L567.5,379.39L568.5,379.49L569.5,379.58L570.5,379.66L571.5,379.74L572.5,379.82L573.5,379.89L574.5,379.96L575.5,380.03L576.5,380.09L577.5,380.15L578.5,380.21L579.5,380.26L580.5,380.31L581.5,380.35L582.5,380.39L583.5,380.42L584.5,380.46L585.5,380.48L586.5,380.51L587.5,380.54L588.5,380.56L589.5,380.58L590.5,380.60L591.5,380.63L592.5,380.65L593.5,380.67L594.5,380.69L595.5,380.71L596.5,380.74L597.5,380.76L598.5,380.78L599.5,380.81L600.5,380.83L601.5,380.85L601.5,380.85Z" fill="#7D7DEB"/>
<line x1="445.3" y1="380.85" x2="558.2" y2="380.85" stroke="#000" stroke-width="2.5"/>
<circle cx="501.8" cy="380.85" r="3.3" fill="#000"/>
<path d="M358.5,350.50L358.5,350.50L359.5,350.48L360.5,350.46L361.5,350.44L362.5,350.43L363.5,350.41L364.5,350.39L365.5,350.37L366.5,350.36L367.5,350.34L368.5,350.33L369.5,350.31L370.5,350.30L371.5,350.29L372.5,350.27L373.5,350.26L374.5,350.25L375.5,350.24L376.5,350.22L377.5,350.21L378.5,350.20L379.5,350.19L380.5,350.17L381.5,350.16L382.5,350.14L383.5,350.13L384.5,350.11L385.5,350.10L386.5,350.08L387.5,350.06L388.5,350.04L389.5,350.02L390.5,350.00L391.5,349.97L392.5,349.95L393.5,349.92L394.5,349.90L395.5,349.87L396.5,349.84L397.5,349.81L398.5,349.77L399.5,349.74L400.5,349.70L401.5,349.66L402.5,349.62L403.5,349.58L404.5,349.54L405.5,349.49L406.5,349.44L407.5,349.39L408.5,349.34L409.5,349.27L410.5,349.20L411.5,349.12L412.5,349.03L413.5,348.94L414.5,348.84L415.5,348.74L416.5,348.64L417.5,348.54L418.5,348.43L419.5,348.33L420.5,348.22L421.5,348.12L422.5,348.01L423.5,347.91L424.5,347.80L425.5,347.68L426.5,347.56L427.5,347.42L428.5,347.27L429.5,347.10L430.5,346.91L431.5,346.70L432.5,346.47L433.5,346.23L434.5,345.98L435.5,345.71L436.5,345.43L437.5,345.12L438.5,344.78L439.5,344.43L440.5,344.06L441.5,343.67L442.5,343.29L443.5,342.90L444.5,342.50L445.5,342.08L446.5,341.64L447.5,341.20L448.5,340.76L449.5,340.33L450.5,339.93L451.5,339.55L452.5,339.19L453.5,338.84L454.5,338.50L455.5,338.17L456.5,337.85L457.5,337.55L458.5,337.26L459.5,336.98L460.5,336.73L461.5,336.49L462.5,336.27L463.5,336.04L464.5,335.82L465.5,335.59L466.5,335.35L467.5,335.09L468.5,334.81L469.5,334.51L470.5,334.18L471.5,333.84L472.5,333.49L473.5,333.13L474.5,332.77L475.5,332.41L476.5,332.05L477.5,331.66L478.5,331.27L479.5,330.88L480.5,330.49L481.5,330.12L482.5,329.78L483.5,329.47L484.5,329.19L485.5,328.93L486.5,328.69L487.5,328.50L488.5,328.33L489.5,328.16L490.5,328.02L491.5,327.93L492.5,327.90L493.5,327.94L494.5,328.03L495.5,328.16L496.5,328.30L497.5,328.46L498.5,328.62L499.5,328.78L500.5,328.94L501.5,329.12L502.5,329.31L503.5,329.51L504.5,329.72L505.5,329.93L506.5,330.15L507.5,330.38L508.5,330.60L509.5,330.82L510.5,331.05L511.5,331.27L512.5,331.50L513.5,331.74L514.5,331.99L515.5,332.26L516.5,332.54L517.5,332.84L518.5,333.17L519.5,333.54L520.5,333.95L521.5,334.39L522.5,334.86L523.5,335.34L524.5,335.83L525.5,336.32L526.5,336.79L527.5,337.24L528.5,337.69L529.5,338.15L530.5,338.61L531.5,339.06L532.5,339.52L533.5,339.96L534.5,340.40L535.5,340.83L536.5,341.24L537.5,341.64L538.5,342.03L539.5,342.41L540.5,342.79L541.5,343.16L542.5,343.51L543.5,343.86L544.5,344.20L545.5,344.52L546.5,344.83L547.5,345.13L548.5,345.42L549.5,345.71L550.5,345.98L551.5,346.25L552.5,346.51L553.5,346.75L554.5,346.99L555.5,347.21L556.5,347.43L557.5,347.64L558.5,347.85L559.5,348.06L560.5,348.25L561.5,348.44L562.5,348.61L563.5,348.77L564.5,348.90L565.5,349.01L566.5,349.11L567.5,349.20L568.5,349.29L569.5,349.37L570.5,349.45L571.5,349.52L572.5,349.59L573.5,349.65L574.5,349.71L575.5,349.76L576.5,349.81L577.5,349.85L578.5,349.89L579.5,349.93L580.5,349.96L581.5,350.00L582.5,350.03L583.5,350.05L584.5,350.08L585.5,350.11L586.5,350.13L587.5,350.15L588.5,350.17L589.5,350.20L590.5,350.22L591.5,350.24L592.5,350.26L593.5,350.28L594.5,350.30L595.5,350.32L596.5,350.34L597.5,350.37L598.5,350.39L599.5,350.41L600.5,350.43L601.5,350.46L602.5,350.48L603.5,350.50L603.5,350.50Z" fill="#DD7880"/>
<line x1="428.1" y1="350.5" x2="556.0" y2="350.5" stroke="#000" stroke-width="2.5"/>
<circle cx="494.0" cy="350.5" r="3.3" fill="#000"/>
</g>
<rect x="354.5" y="320.5" width="254.70" height="78.00" fill="none" stroke="#333" stroke-width="0.72"/>
<line x1="351.0" y1="350.5" x2="354.5" y2="350.5" stroke="#333" stroke-width="0.9"/>
<line x1="351.0" y1="380.85" x2="354.5" y2="380.85" stroke="#333" stroke-width="0.9"/>
<line x1="382.6" y1="398.5" x2="382.6" y2="401.9" stroke="#333" stroke-width="0.9"/>
<text x="382.6" y="413.2" font-size="12.3" fill="#555" text-anchor="middle">3.80</text>
<line x1="433.8" y1="398.5" x2="433.8" y2="401.9" stroke="#333" stroke-width="0.9"/>
<text x="433.8" y="413.2" font-size="12.3" fill="#555" text-anchor="middle">3.85</text>
<line x1="485.0" y1="398.5" x2="485.0" y2="401.9" stroke="#333" stroke-width="0.9"/>
<text x="485.0" y="413.2" font-size="12.3" fill="#555" text-anchor="middle">3.90</text>
<line x1="536.3" y1="398.5" x2="536.3" y2="401.9" stroke="#333" stroke-width="0.9"/>
<text x="536.3" y="413.2" font-size="12.3" fill="#555" text-anchor="middle">3.95</text>
<line x1="587.6" y1="398.5" x2="587.6" y2="401.9" stroke="#333" stroke-width="0.9"/>
<text x="587.6" y="413.2" font-size="12.3" fill="#555" text-anchor="middle">4.00</text>
<text x="481.5" y="432.3" font-size="12.3" fill="#1c1c1c" text-anchor="middle">Attitudes towards vegans/veganism</text>
<rect x="627.8" y="346.3" width="14.6" height="14.7" fill="#DD7880"/>
<rect x="627.8" y="364.0" width="14.6" height="14.7" fill="#7D7DEB"/>
<text x="649.3" y="358.4" font-size="12.3" fill="#1c1c1c">after</text>
<text x="649.3" y="376.9" font-size="12.3" fill="#1c1c1c">before</text>
</svg>
</body></html>
